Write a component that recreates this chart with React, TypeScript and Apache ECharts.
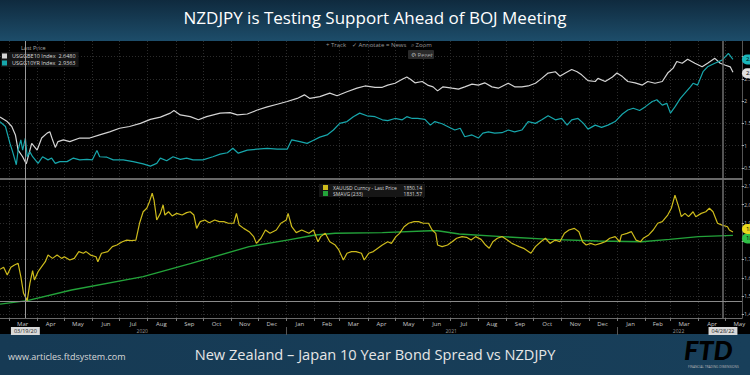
import React, { useEffect, useRef } from "react";
import * as echarts from "echarts";

const chartTitle = "NZDJPY is Testing Support Ahead of BOJ Meeting";
const chartSubtitle = "New Zealand – Japan 10 Year Bond Spread vs NZDJPY";
const siteText = "www.articles.ftdsystem.com";

// USGGBE10 Index (white)
const be10: [string, number][] = [
  ["2020-02-20", 1.64], ["2020-02-28", 1.54], ["2020-03-04", 1.43], ["2020-03-08", 1.24], ["2020-03-11", 0.9],
  ["2020-03-16", 0.75], ["2020-03-20", 0.59], ["2020-03-26", 1.05], ["2020-04-01", 0.9], ["2020-04-06", 1.17],
  ["2020-04-12", 1.28], ["2020-04-15", 1.31], ["2020-04-18", 1.13], ["2020-04-21", 0.96], ["2020-04-24", 1.09],
  ["2020-04-30", 1.13], ["2020-05-07", 1.09], ["2020-05-18", 1.17], ["2020-05-29", 1.17], ["2020-06-09", 1.24],
  ["2020-06-20", 1.31], ["2020-07-01", 1.39], ["2020-07-12", 1.43], ["2020-07-24", 1.5], ["2020-08-04", 1.59],
  ["2020-08-15", 1.64], ["2020-08-26", 1.73], ["2020-08-30", 1.79], ["2020-09-06", 1.69], ["2020-09-17", 1.65],
  ["2020-09-26", 1.58], ["2020-10-05", 1.65], ["2020-10-20", 1.73], ["2020-10-31", 1.74], ["2020-11-08", 1.69],
  ["2020-11-19", 1.71], ["2020-11-30", 1.8], ["2020-12-11", 1.87], ["2020-12-22", 1.93], ["2021-01-02", 1.99],
  ["2021-01-13", 2.06], ["2021-01-21", 2.14], ["2021-01-27", 2.06], ["2021-02-07", 2.1], ["2021-02-18", 2.18],
  ["2021-02-26", 2.12], ["2021-03-09", 2.21], ["2021-03-20", 2.29], ["2021-03-29", 2.34], ["2021-04-09", 2.31],
  ["2021-04-17", 2.31], ["2021-04-23", 2.36], ["2021-05-01", 2.4], ["2021-05-09", 2.49], ["2021-05-14", 2.54],
  ["2021-05-18", 2.49], ["2021-05-23", 2.41], ["2021-05-31", 2.44], ["2021-06-06", 2.36], ["2021-06-12", 2.32],
  ["2021-06-17", 2.23], ["2021-06-23", 2.32], ["2021-07-03", 2.29], ["2021-07-10", 2.27], ["2021-07-17", 2.32],
  ["2021-07-25", 2.38], ["2021-08-01", 2.36], ["2021-08-08", 2.41], ["2021-08-16", 2.32], ["2021-08-23", 2.29],
  ["2021-09-03", 2.4], ["2021-09-10", 2.32], ["2021-09-18", 2.32], ["2021-09-25", 2.34], ["2021-10-03", 2.4],
  ["2021-10-10", 2.51], ["2021-10-17", 2.63], ["2021-10-25", 2.66], ["2021-10-30", 2.56], ["2021-11-05", 2.63],
  ["2021-11-12", 2.71], ["2021-11-18", 2.66], ["2021-11-23", 2.59], ["2021-11-30", 2.46], ["2021-12-08", 2.44],
  ["2021-12-11", 2.51], ["2021-12-19", 2.44], ["2021-12-27", 2.54], ["2022-01-01", 2.63], ["2022-01-07", 2.55],
  ["2022-01-13", 2.44], ["2022-01-21", 2.41], ["2022-01-29", 2.36], ["2022-02-04", 2.44], ["2022-02-12", 2.4],
  ["2022-02-20", 2.44], ["2022-02-26", 2.63], ["2022-03-04", 2.74], ["2022-03-08", 2.89], ["2022-03-14", 2.85],
  ["2022-03-20", 2.94], ["2022-03-28", 2.85], ["2022-04-05", 2.77], ["2022-04-11", 2.85], ["2022-04-19", 2.96],
  ["2022-04-25", 2.85], ["2022-04-30", 2.81], ["2022-05-06", 2.77], ["2022-05-09", 2.648],
];

// USGG10YR Index (teal)
const ust10: [string, number][] = [
  ["2020-02-20", 1.54], ["2020-02-26", 1.43], ["2020-03-02", 1.05], ["2020-03-05", 0.86], ["2020-03-09", 0.57],
  ["2020-03-11", 0.9], ["2020-03-14", 1.13], ["2020-03-16", 0.9], ["2020-03-19", 1.17], ["2020-03-21", 0.75],
  ["2020-03-24", 0.86], ["2020-03-27", 0.75], ["2020-04-02", 0.6], ["2020-04-07", 0.75], ["2020-04-13", 0.68],
  ["2020-04-17", 0.72], ["2020-04-21", 0.6], ["2020-04-26", 0.64], ["2020-05-04", 0.64], ["2020-05-11", 0.72],
  ["2020-05-18", 0.68], ["2020-05-26", 0.69], ["2020-06-01", 0.68], ["2020-06-06", 0.89], ["2020-06-09", 0.75],
  ["2020-06-17", 0.74], ["2020-06-24", 0.68], ["2020-07-05", 0.68], ["2020-07-16", 0.64], ["2020-07-27", 0.59],
  ["2020-08-04", 0.54], ["2020-08-11", 0.6], ["2020-08-15", 0.72], ["2020-08-22", 0.66], ["2020-08-29", 0.75],
  ["2020-09-06", 0.69], ["2020-09-13", 0.72], ["2020-09-20", 0.68], ["2020-10-01", 0.68], ["2020-10-12", 0.75],
  ["2020-10-20", 0.81], ["2020-10-28", 0.84], ["2020-11-03", 0.94], ["2020-11-09", 0.83], ["2020-11-19", 0.9],
  ["2020-11-30", 0.92], ["2020-12-11", 0.94], ["2020-12-22", 0.92], ["2021-01-02", 0.92], ["2021-01-07", 1.13],
  ["2021-01-16", 1.09], ["2021-01-24", 1.05], ["2021-01-30", 1.11], ["2021-02-07", 1.19], ["2021-02-15", 1.24],
  ["2021-02-22", 1.35], ["2021-03-01", 1.5], ["2021-03-09", 1.54], ["2021-03-16", 1.65], ["2021-03-23", 1.73],
  ["2021-03-31", 1.67], ["2021-04-09", 1.65], ["2021-04-17", 1.58], ["2021-04-23", 1.56], ["2021-05-01", 1.61],
  ["2021-05-09", 1.58], ["2021-05-14", 1.65], ["2021-05-20", 1.61], ["2021-05-26", 1.61], ["2021-06-03", 1.59],
  ["2021-06-09", 1.46], ["2021-06-14", 1.54], ["2021-06-22", 1.49], ["2021-06-28", 1.43], ["2021-07-06", 1.35],
  ["2021-07-12", 1.39], ["2021-07-17", 1.2], ["2021-07-25", 1.24], ["2021-08-01", 1.17], ["2021-08-06", 1.28],
  ["2021-08-12", 1.31], ["2021-08-19", 1.28], ["2021-08-27", 1.29], ["2021-09-03", 1.35], ["2021-09-10", 1.31],
  ["2021-09-18", 1.35], ["2021-09-25", 1.54], ["2021-10-03", 1.5], ["2021-10-10", 1.58], ["2021-10-17", 1.67],
  ["2021-10-25", 1.58], ["2021-11-01", 1.61], ["2021-11-07", 1.46], ["2021-11-12", 1.58], ["2021-11-19", 1.61],
  ["2021-11-25", 1.5], ["2021-11-30", 1.37], ["2021-12-08", 1.46], ["2021-12-15", 1.41], ["2021-12-22", 1.46],
  ["2021-12-30", 1.54], ["2022-01-07", 1.71], ["2022-01-13", 1.8], ["2022-01-19", 1.84], ["2022-01-26", 1.79],
  ["2022-02-01", 1.87], ["2022-02-09", 1.99], ["2022-02-14", 2.03], ["2022-02-20", 1.91], ["2022-02-25", 1.95],
  ["2022-03-01", 1.73], ["2022-03-06", 1.87], ["2022-03-12", 2.06], ["2022-03-17", 2.18], ["2022-03-23", 2.32],
  ["2022-03-26", 2.4], ["2022-03-31", 2.36], ["2022-04-06", 2.66], ["2022-04-11", 2.77], ["2022-04-19", 2.85],
  ["2022-04-27", 2.92], ["2022-05-04", 3.07], ["2022-05-09", 2.9363],
];

// XAUUSD Curncy - Last Price (yellow)
const gold: [string, number][] = [
  ["2020-02-20", 1646], ["2020-02-24", 1657], ["2020-02-28", 1615], ["2020-03-03", 1657], ["2020-03-07", 1670],
  ["2020-03-11", 1679], ["2020-03-14", 1606], ["2020-03-17", 1515], ["2020-03-21", 1475], ["2020-03-24", 1569],
  ["2020-03-27", 1639], ["2020-03-29", 1588], ["2020-04-02", 1633], ["2020-04-06", 1661], ["2020-04-10", 1688],
  ["2020-04-13", 1724], ["2020-04-18", 1706], ["2020-04-23", 1724], ["2020-04-28", 1706], ["2020-05-01", 1715],
  ["2020-05-07", 1697], ["2020-05-12", 1706], ["2020-05-17", 1743], ["2020-05-22", 1734], ["2020-05-25", 1743],
  ["2020-05-30", 1724], ["2020-06-05", 1715], ["2020-06-07", 1688], ["2020-06-11", 1734], ["2020-06-18", 1743],
  ["2020-06-23", 1770], ["2020-06-28", 1779], ["2020-07-04", 1797], ["2020-07-09", 1806], ["2020-07-14", 1803],
  ["2020-07-19", 1806], ["2020-07-23", 1898], ["2020-07-27", 1961], ["2020-07-31", 1980], ["2020-08-03", 2016],
  ["2020-08-06", 2062], ["2020-08-08", 2025], ["2020-08-11", 1916], ["2020-08-15", 1952], ["2020-08-18", 1998],
  ["2020-08-20", 1943], ["2020-08-24", 1961], ["2020-08-28", 1938], ["2020-09-02", 1952], ["2020-09-08", 1943],
  ["2020-09-13", 1956], ["2020-09-17", 1961], ["2020-09-21", 1943], ["2020-09-24", 1870], ["2020-09-28", 1907],
  ["2020-10-03", 1916], ["2020-10-08", 1901], ["2020-10-14", 1916], ["2020-10-19", 1907], ["2020-10-24", 1907],
  ["2020-10-29", 1898], ["2020-11-04", 1898], ["2020-11-07", 1952], ["2020-11-10", 1888], ["2020-11-15", 1870],
  ["2020-11-21", 1852], ["2020-11-26", 1825], ["2020-11-29", 1788], ["2020-12-04", 1816], ["2020-12-09", 1861],
  ["2020-12-14", 1843], ["2020-12-21", 1861], ["2020-12-26", 1898], ["2021-01-01", 1916], ["2021-01-03", 1952],
  ["2021-01-07", 1879], ["2021-01-12", 1847], ["2021-01-18", 1861], ["2021-01-26", 1843], ["2021-01-31", 1861],
  ["2021-02-05", 1797], ["2021-02-08", 1825], ["2021-02-13", 1843], ["2021-02-18", 1797], ["2021-02-24", 1779],
  ["2021-02-28", 1752], ["2021-03-05", 1697], ["2021-03-09", 1734], ["2021-03-14", 1743], ["2021-03-19", 1743],
  ["2021-03-25", 1734], ["2021-03-28", 1697], ["2021-04-02", 1734], ["2021-04-07", 1743], ["2021-04-12", 1761],
  ["2021-04-17", 1779], ["2021-04-23", 1797], ["2021-04-27", 1788], ["2021-05-02", 1825], ["2021-05-06", 1843],
  ["2021-05-11", 1879], ["2021-05-16", 1898], ["2021-05-22", 1907], ["2021-05-27", 1907], ["2021-06-01", 1898],
  ["2021-06-07", 1898], ["2021-06-11", 1861], ["2021-06-15", 1843], ["2021-06-17", 1779], ["2021-06-22", 1770],
  ["2021-06-28", 1779], ["2021-07-03", 1797], ["2021-07-08", 1816], ["2021-07-14", 1825], ["2021-07-19", 1821],
  ["2021-07-24", 1806], ["2021-07-29", 1825], ["2021-08-04", 1810], ["2021-08-09", 1779], ["2021-08-13", 1761],
  ["2021-08-17", 1797], ["2021-08-22", 1816], ["2021-08-27", 1825], ["2021-09-02", 1806], ["2021-09-07", 1788],
  ["2021-09-11", 1779], ["2021-09-15", 1770], ["2021-09-20", 1761], ["2021-09-28", 1734], ["2021-10-03", 1770],
  ["2021-10-09", 1797], ["2021-10-14", 1816], ["2021-10-19", 1788], ["2021-10-25", 1806], ["2021-10-30", 1797],
  ["2021-11-04", 1843], ["2021-11-09", 1861], ["2021-11-15", 1870], ["2021-11-20", 1852], ["2021-11-24", 1797],
  ["2021-11-28", 1779], ["2021-12-03", 1788], ["2021-12-08", 1779], ["2021-12-14", 1788], ["2021-12-19", 1797],
  ["2021-12-24", 1816], ["2021-12-30", 1825], ["2022-01-04", 1797], ["2022-01-06", 1834], ["2022-01-12", 1843],
  ["2022-01-17", 1852], ["2022-01-22", 1806], ["2022-01-27", 1797], ["2022-01-30", 1816], ["2022-02-05", 1834],
  ["2022-02-10", 1861], ["2022-02-15", 1898], ["2022-02-20", 1907], ["2022-02-26", 1943], ["2022-03-02", 1980],
  ["2022-03-06", 2052], ["2022-03-10", 1989], ["2022-03-13", 1934], ["2022-03-17", 1952], ["2022-03-21", 1934],
  ["2022-03-26", 1961], ["2022-03-29", 1934], ["2022-04-04", 1952], ["2022-04-09", 1961], ["2022-04-13", 1980],
  ["2022-04-17", 1961], ["2022-04-22", 1898], ["2022-04-27", 1888], ["2022-05-03", 1879], ["2022-05-05", 1861],
  ["2022-05-09", 1850.14],
];

// SMAVG (233) (green)
const goldSma: [string, number][] = [
  ["2020-02-20", 1456], ["2020-03-21", 1475], ["2020-05-09", 1533], ["2020-07-27", 1606], ["2020-09-18", 1679],
  ["2020-11-21", 1770], ["2021-01-02", 1806], ["2021-02-02", 1834], ["2021-02-24", 1843], ["2021-04-17", 1847],
  ["2021-06-09", 1857], ["2021-06-17", 1857], ["2021-07-11", 1839], ["2021-08-27", 1825], ["2021-10-19", 1810],
  ["2021-12-11", 1801], ["2022-01-28", 1797], ["2022-02-28", 1810], ["2022-04-01", 1825], ["2022-05-09", 1831.57],
];

const lastValues: Record<string, string> = {
  "USGGBE10 Index": "2.6480",
  "USGG10YR Index": "2.9363",
  "XAUUSD Curncy - Last Price": "1850.14",
  "SMAVG (233)": "1831.57",
};

const xStart = "2020-02-20";
const xEnd = "2022-05-19";
const monthStarts = [
  "2020-03-01", "2020-04-01", "2020-05-01", "2020-06-01", "2020-07-01", "2020-08-01", "2020-09-01",
  "2020-10-01", "2020-11-01", "2020-12-01", "2021-01-01", "2021-02-01", "2021-03-01", "2021-04-01",
  "2021-05-01", "2021-06-01", "2021-07-01", "2021-08-01", "2021-09-01", "2021-10-01", "2021-11-01",
  "2021-12-01", "2022-01-01", "2022-02-01", "2022-03-01", "2022-04-01", "2022-05-01",
];
const monthMids = [
  "2020-03-16", "2020-04-16", "2020-05-16", "2020-06-16", "2020-07-16", "2020-08-16", "2020-09-16",
  "2020-10-16", "2020-11-16", "2020-12-16", "2021-01-16", "2021-02-15", "2021-03-16", "2021-04-16",
  "2021-05-16", "2021-06-16", "2021-07-16", "2021-08-16", "2021-09-16", "2021-10-16", "2021-11-16",
  "2021-12-16", "2022-01-16", "2022-02-15", "2022-03-16", "2022-04-16", "2022-05-16",
];
const monthNames = ["Jan", "Feb", "Mar", "Apr", "May", "Jun", "Jul", "Aug", "Sep", "Oct", "Nov", "Dec"];
const yearStarts = ["2021-01-01", "2022-01-01"];
const yearMids = ["2020-07-26", "2021-07-02", "2022-03-10"];
const topTicks = [0.5, 1, 1.5, 2, 2.5, 3];
const goldTicks = [1400, 1500, 1600, 1700, 1800, 1900, 2000, 2100];
const cursorDates = ["2020-03-19", "2022-04-28"];
const cursorLabels = ["03/19/20", "04/28/22"];
const goldCrosshair = 1470;

const ts = (s: string) => {
  const [y, m, d] = s.split("-").map(Number);
  return new Date(y, m - 1, d).getTime();
};
const toData = (arr: [string, number][]) => arr.map(([d, v]) => [ts(d), v]);

const GRID_LINE = { color: "#2c2c2c", type: [1, 2] as any, width: 1 };
const FONT = "Open Sans";

export default function App() {
  const ref = useRef<HTMLDivElement>(null);

  useEffect(() => {
    if (!ref.current) return;
    const chart = echarts.init(ref.current, null, { renderer: "svg" });
    const xMin = ts(xStart);
    const xMax = ts(xEnd);
    const monthStartTs = monthStarts.map(ts);
    const cursorTs = cursorDates.map(ts);

    const endLabel = (bg: string, digits: number, dy: number) => ({
      show: true,
      formatter: (p: any) => Number(p.value[1]).toFixed(digits),
      distance: 9,
      offset: [0, dy],
      color: "#000",
      fontSize: 6,
      backgroundColor: bg,
      borderRadius: 5,
      padding: [2, 4],
    });
    const dateBox = (text: string) => ({
      show: true,
      position: "start",
      distance: 9,
      formatter: text,
      color: "#222",
      fontSize: 5.5,
      backgroundColor: "#d9d9d9",
      padding: [1, 3],
    });

    const option: any = {
      animation: false,
      backgroundColor: "#000000",
      textStyle: { fontFamily: FONT },
      title: [
        {
          text: chartTitle,
          left: "center",
          top: 7,
          padding: 0,
          textStyle: { color: "#ffffff", fontSize: 17, fontWeight: "normal", lineHeight: 20, fontFamily: FONT },
        },
        {
          text: chartSubtitle,
          left: "center",
          top: 345,
          padding: 0,
          textStyle: { color: "#e6e6e6", fontSize: 14.6, fontWeight: "normal", lineHeight: 17, fontFamily: FONT },
        },
        {
          text: siteText,
          left: 8,
          top: 350,
          padding: 0,
          textStyle: { color: "#d8d8d8", fontSize: 9, fontWeight: "normal", lineHeight: 12, fontFamily: FONT },
        },
      ],
      legend: [
        {
          data: ["USGGBE10 Index", "USGG10YR Index"],
          left: 1,
          top: 52,
          orient: "vertical",
          icon: "rect",
          itemWidth: 5,
          itemHeight: 5,
          itemGap: 1,
          padding: [1, 3, 1, 1],
          backgroundColor: "#141414",
          selectedMode: false,
          formatter: (n: string) => `${n}  ${lastValues[n]}`,
          textStyle: { color: "#d8d8d8", fontSize: 5.5 },
        },
        {
          data: ["XAUUSD Curncy - Last Price", "SMAVG (233)"],
          left: 319,
          top: 184,
          orient: "vertical",
          icon: "rect",
          itemWidth: 5,
          itemHeight: 5,
          itemGap: 1,
          padding: [1, 3, 1, 4],
          backgroundColor: "#161616",
          selectedMode: false,
          formatter: (n: string) => `{a|${n}}{b|${lastValues[n]}}`,
          textStyle: {
            color: "#d8d8d8",
            fontSize: 5,
            rich: {
              a: { fontSize: 5, color: "#d8d8d8", width: 70 },
              b: { fontSize: 5, color: "#d8d8d8", width: 19, align: "right" },
            },
          },
        },
      ],
      grid: [
        { left: 0, right: 8, top: 41, height: 138, containLabel: false, outerBoundsMode: "none" },
        { left: 0, right: 8, top: 179, height: 139, containLabel: false, outerBoundsMode: "none" },
      ],
      xAxis: [
        {
          type: "value",
          gridIndex: 0,
          min: xMin,
          max: xMax,
          axisLine: { show: true, onZero: false, lineStyle: { color: "#8a8a8a", width: 1.5 } },
          axisTick: { show: false, customValues: monthStartTs },
          axisLabel: { show: false },
          splitLine: { show: true, lineStyle: GRID_LINE },
        },
        {
          type: "value",
          gridIndex: 1,
          min: xMin,
          max: xMax,
          axisLine: { show: true, onZero: false, lineStyle: { color: "#6a6a6a", width: 1 } },
          axisTick: { show: true, length: 3, customValues: monthStartTs, lineStyle: { color: "#777" } },
          axisLabel: {
            show: true,
            customValues: monthMids.map(ts),
            formatter: (v: number) => monthNames[new Date(v).getMonth()],
            fontSize: 6,
            color: "#c8c8c8",
            margin: 3,
            fontFamily: FONT,
          },
          splitLine: { show: true, lineStyle: GRID_LINE },
        },
        {
          type: "value",
          gridIndex: 1,
          min: xMin,
          max: xMax,
          position: "bottom",
          offset: 9,
          axisLine: { show: false, onZero: false },
          axisTick: { show: true, length: 8, customValues: yearStarts.map(ts), lineStyle: { color: "#555" } },
          axisLabel: {
            show: true,
            customValues: yearMids.map(ts),
            formatter: (v: number) => String(new Date(v).getFullYear()),
            fontSize: 5,
            color: "#9a9a9a",
            margin: 1,
            fontFamily: FONT,
          },
          splitLine: { show: false },
        },
      ],
      yAxis: [
        {
          type: "value",
          gridIndex: 0,
          position: "right",
          min: 0.25,
          max: 3.35,
          axisLine: { show: true, lineStyle: { color: "#555" } },
          axisTick: { show: true, length: 2, customValues: topTicks, lineStyle: { color: "#aaa" } },
          axisLabel: { show: true, customValues: topTicks, fontSize: 5.5, color: "#bbb", margin: 2 },
          splitLine: { show: true, lineStyle: GRID_LINE },
        },
        {
          type: "value",
          gridIndex: 1,
          position: "right",
          min: 1380,
          max: 2140,
          axisLine: { show: true, lineStyle: { color: "#555" } },
          axisTick: { show: true, length: 2, customValues: goldTicks, lineStyle: { color: "#aaa" } },
          axisLabel: { show: true, customValues: goldTicks, fontSize: 5.5, color: "#bbb", margin: 2 },
          splitLine: { show: true, lineStyle: GRID_LINE },
        },
      ],
      series: [
        {
          name: "USGGBE10 Index",
          type: "line",
          xAxisIndex: 0,
          yAxisIndex: 0,
          data: toData(be10),
          showSymbol: false,
          color: "#d4d4d4",
          lineStyle: { width: 1.2, color: "#d4d4d4" },
          z: 3,
          endLabel: endLabel("#e0e0e0", 4, 1),
          markLine: {
            silent: true,
            symbol: "none",
            label: { show: false },
            lineStyle: { color: "#9a9a9a", type: "solid", width: 1 },
            data: [
              { xAxis: cursorTs[0] },
              { xAxis: cursorTs[1], lineStyle: { color: "#6e6e6e", width: 1.5, type: "solid" } },
            ],
          },
        },
        {
          name: "USGG10YR Index",
          type: "line",
          xAxisIndex: 0,
          yAxisIndex: 0,
          data: toData(ust10),
          showSymbol: false,
          color: "#17a6ab",
          lineStyle: { width: 1.2, color: "#17a6ab" },
          z: 4,
          endLabel: endLabel("#1ab6bb", 4, 0),
        },
        {
          name: "SMAVG (233)",
          type: "line",
          xAxisIndex: 1,
          yAxisIndex: 1,
          data: toData(goldSma),
          showSymbol: false,
          color: "#23a33a",
          lineStyle: { width: 1.4, color: "#23a33a" },
          z: 3,
          endLabel: endLabel("#2fbf46", 2, 3),
        },
        {
          name: "XAUUSD Curncy - Last Price",
          type: "line",
          xAxisIndex: 1,
          yAxisIndex: 1,
          data: toData(gold),
          showSymbol: false,
          color: "#cdbb1c",
          lineStyle: { width: 1.2, color: "#cdbb1c" },
          z: 4,
          endLabel: endLabel("#e8d81e", 2, -3),
          markLine: {
            silent: true,
            symbol: "none",
            lineStyle: { color: "#9a9a9a", type: "solid", width: 1 },
            data: [
              { xAxis: cursorTs[0], label: dateBox(cursorLabels[0]) },
              {
                xAxis: cursorTs[1],
                lineStyle: { color: "#6e6e6e", width: 1.5, type: "solid" },
                label: dateBox(cursorLabels[1]),
              },
              { yAxis: goldCrosshair, label: { show: false }, lineStyle: { color: "#8a8a8a", width: 1, type: "solid" } },
            ],
          },
        },
      ],
      graphic: [
        {
          type: "rect",
          x: 0,
          y: 0,
          z: -10,
          shape: { width: 750, height: 41 },
          style: {
            fill: new echarts.graphic.LinearGradient(0, 0, 0, 1, [
              { offset: 0, color: "#0f2a3e" },
              { offset: 1, color: "#1d4d6a" },
            ]),
          },
        },
        {
          type: "rect",
          x: 0,
          y: 334,
          z: -10,
          shape: { width: 750, height: 41 },
          style: {
            fill: new echarts.graphic.LinearGradient(0, 0, 1, 0, [
              { offset: 0, color: "#163a54" },
              { offset: 1, color: "#183f5a" },
            ]),
          },
        },
        { type: "text", x: 326, y: 42, style: { text: "+ Track", fill: "#9a9a9a", fontSize: 6, fontFamily: FONT } },
        { type: "text", x: 352, y: 42, style: { text: "✓ Annotate", fill: "#9a9a9a", fontSize: 6, fontFamily: FONT } },
        { type: "text", x: 386, y: 42, style: { text: "≡ News", fill: "#9a9a9a", fontSize: 6, fontFamily: FONT } },
        { type: "text", x: 411, y: 42, style: { text: "⌕ Zoom", fill: "#9a9a9a", fontSize: 6, fontFamily: FONT } },
        { type: "rect", x: 408, y: 50, shape: { width: 26, height: 9, r: 1 }, style: { fill: "#2a2a2a" } },
        { type: "text", x: 411, y: 51.5, style: { text: "⚙ Reset", fill: "#a8a8a8", fontSize: 6, fontFamily: FONT } },
        { type: "text", x: 21, y: 44.5, style: { text: "Last Price", fill: "#a8a8a8", fontSize: 5.5, fontFamily: FONT } },
        {
          type: "text",
          x: 684,
          y: 336,
          style: {
            text: "FTD",
            fontSize: 27,
            fontWeight: 900,
            fontStyle: "italic",
            fontFamily: "Lato",
            verticalAlign: "top",
            fill: new echarts.graphic.LinearGradient(0, 0, 0, 1, [
              { offset: 0, color: "#f2f2f2" },
              { offset: 1, color: "#8c8c8c" },
            ]),
          },
        },
        {
          type: "text",
          x: 688,
          y: 365,
          style: { text: "FINANCIAL TRADING DIMENSIONS", fill: "#b5b5b5", fontSize: 3.2, fontFamily: FONT, verticalAlign: "top" },
        },
      ],
    };

    chart.setOption(option);
    return () => chart.dispose();
  }, []);

  return (
    <div
      ref={ref}
      style={{ position: "fixed", left: 0, top: 0, width: 750, height: 375, background: "#000" }}
    />
  );
}
